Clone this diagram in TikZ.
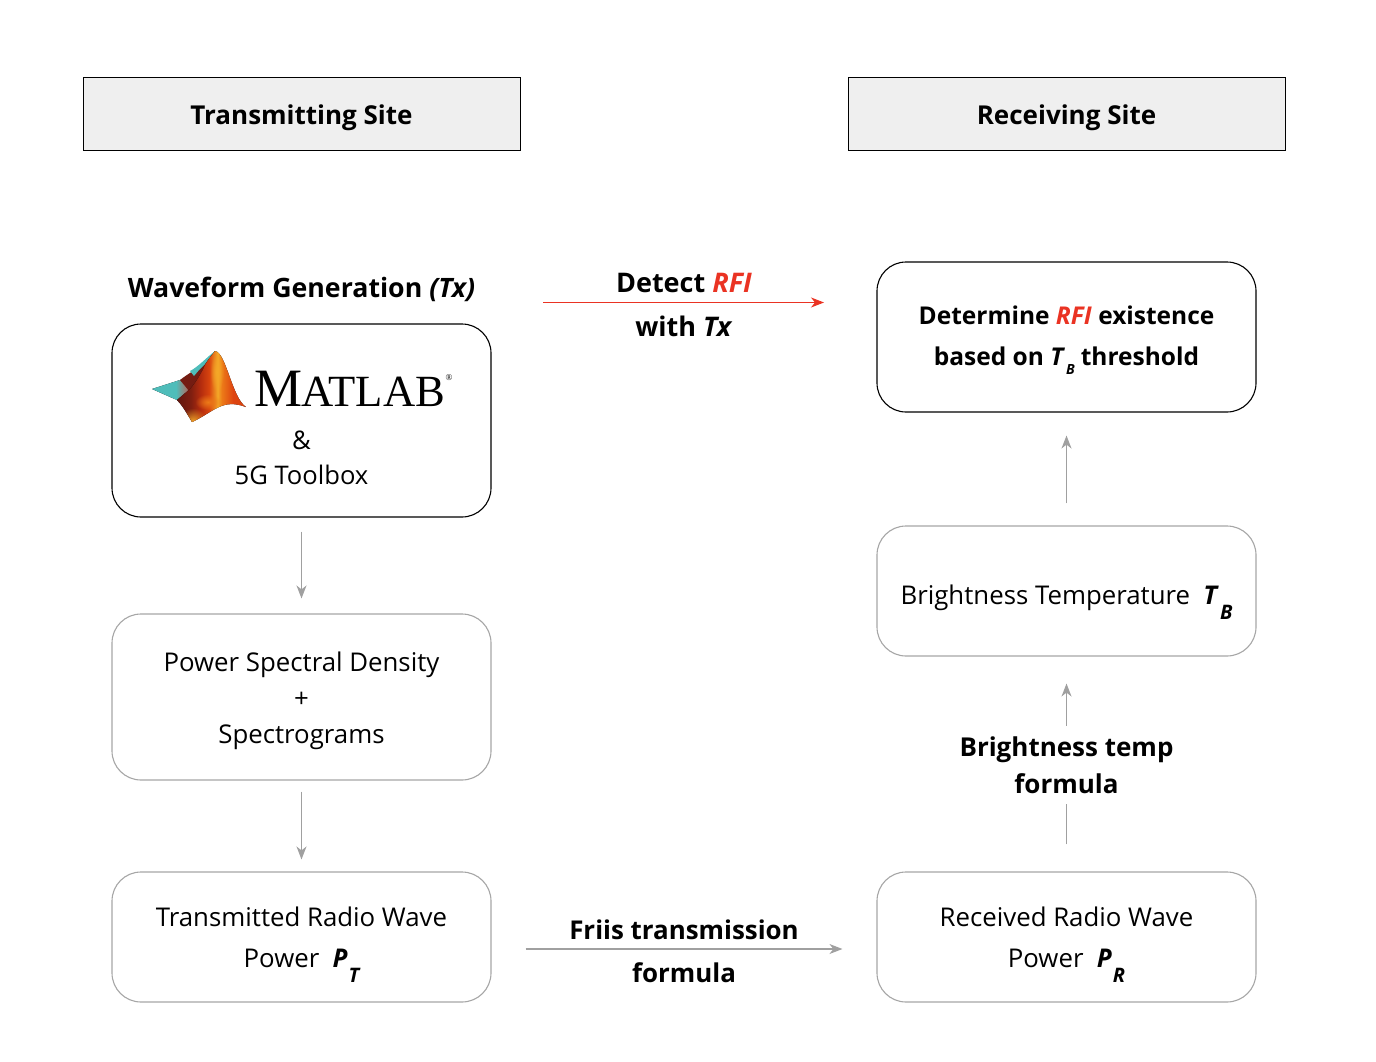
\documentclass[tikz,border=0pt]{standalone}
\usepackage{fontspec}
\setmainfont{Open Sans}
\newfontfamily\lserif{Liberation Serif}
\usetikzlibrary{arrows.meta,fadings}
\tikzfading[name=softfade,inner color=transparent!0,outer color=transparent!100]
\definecolor{hdr}{HTML}{EFEFEF}
\definecolor{boxgray}{HTML}{A6A6A6}
\definecolor{arrgray}{HTML}{A0A0A0}
\definecolor{rfired}{HTML}{EA3323}
\definecolor{mA}{HTML}{5E1610}
\definecolor{mB}{HTML}{7E1E10}
\definecolor{mC}{HTML}{B42C0E}
\definecolor{mD}{HTML}{D8440E}
\definecolor{mE}{HTML}{F4A828}
\definecolor{mF}{HTML}{EC7A18}
\definecolor{mG}{HTML}{DE4410}
\definecolor{mT}{HTML}{4FBDBA}
\definecolor{mM}{HTML}{9E7A70}
\definecolor{mR}{HTML}{741C12}
\pgfdeclarehorizontalshading{membrane}{100bp}{
 color(0bp)=(mA); color(25bp)=(mA); color(36bp)=(mB);
 color(43bp)=(mC); color(49bp)=(mD); color(55bp)=(mE); color(58bp)=(mF);
 color(66bp)=(mG); color(75bp)=(mD); color(100bp)=(mD)}
\pgfdeclarehorizontalshading{tealfade}{100bp}{
 color(0bp)=(mT); color(25bp)=(mT); color(50bp)=(mT);
 color(60bp)=(mM); color(72bp)=(mR); color(100bp)=(mR)}
\newcommand{\sbs}[1]{\smash{\raisebox{-15pt}{\fontsize{20}{20}\selectfont\itshape\bfseries #1}}}
\tikzset{
 x=1pt,y=-1pt,
 hdrbox/.style={draw=black,line width=1pt,fill=hdr,minimum width=437pt,minimum height=73pt,inner sep=0pt,font=\fontsize{26}{30}\selectfont\bfseries},
 rbox/.style={draw=#1,rounded corners=29pt,line width=1.1pt,minimum width=379pt,inner sep=0pt,align=center,font=\fontsize{25.8}{41}\selectfont},
 lbl/.style={inner sep=0pt,font=\fontsize{27}{37}\selectfont\bfseries,align=center},
 con/.style={draw=arrgray,line width=1.1pt,-{Stealth[length=13pt,width=10pt,inset=4pt]}},
 plainline/.style={draw=arrgray,line width=1.1pt},
 redcon/.style={draw=rfired,line width=1.1pt,-{Stealth[length=13pt,width=10pt,inset=4pt]}},
}
\begin{document}
\begin{tikzpicture}
\useasboundingbox (0,0) rectangle (1376,1062);
\node[hdrbox] (tx) at (301.5,114.5) {\raisebox{-10pt}[0pt][0pt]{Transmitting Site}};
\node[hdrbox] (rx) at (1066.5,114.5) {\raisebox{-10pt}[0pt][0pt]{Receiving Site}};

\node[lbl,font=\fontsize{26.7}{37}\selectfont\bfseries] (wg) at (301.5,289) {Waveform Generation \textit{(Tx)}};
\node[rbox=black,minimum height=193pt] (ml) at (301.5,420.5) {};
\node[inner sep=0pt,font=\fontsize{25.6}{30}\selectfont] (amp) at (301.5,440) {\&};
\node[inner sep=0pt,font=\fontsize{25.6}{30}\selectfont] (tb) at (301.5,475) {5G Toolbox};
\node[inner sep=0pt,anchor=base west,font=\lserif\fontsize{54}{54}\selectfont] (mlname) at (254,406) {M\kern-1pt\fontsize{44.6}{45}\selectfont ATLAB};
\node[inner sep=0pt,font=\lserif\fontsize{9}{9}\selectfont] (mlreg) at (449,378) {®};

% membrane logo
\fill[shading=tealfade] (152,389) -- (180,380) -- (190,379) -- (200,388) -- (190,400) -- (177,400) -- cycle;
\fill[mR] (180,380) .. controls (190,372) and (198,370) .. (215,351) -- (208,372) -- (190,392) -- cycle;
\fill[mT] (190,371) .. controls (198,367) and (206,358) .. (215,351) .. controls (209,359) and (205,365) .. (199,370) -- (194,376) -- cycle;
\begin{scope}
\clip (215,351) .. controls (226,352) and (232,398) .. (246,407)
  .. controls (222,398) and (214,412) .. (192,422)
  .. controls (186,412) and (182,405) .. (177,400) -- (190,389)
  .. controls (197,381) and (202,372) .. (205,365) .. controls (209,358) and (212,355) .. (215,351) -- cycle;
\fill[shading=membrane] (175,351) rectangle (246,422);
\fill[mE,path fading=softfade] (193,422) circle[radius=14pt];
\fill[mE,path fading=softfade] (217,372) ellipse[x radius=7pt,y radius=20pt];
\fill[mF,path fading=softfade] (208,402) ellipse[x radius=13pt,y radius=8pt];
\end{scope}

\node[rbox=boxgray,minimum height=166pt] (psd) at (301.5,697) {};
\node[inner sep=0pt,align=center,font=\fontsize{25.8}{36}\selectfont] (psdt) at (301.5,700.5) {Power Spectral Density\\+\\Spectrograms};
\node[rbox=boxgray,minimum height=130pt] (pt) at (301.5,937) {Transmitted Radio Wave\\Power\ \ \textbf{\textit{P}}\kern1pt\sbs{T}};

\node[rbox=black,minimum height=150pt,font=\fontsize{24.5}{41}\selectfont\bfseries] (det) at (1066.5,337) {\raisebox{2pt}{Determine \textcolor{rfired}{\textit{RFI}} existence}\\\raisebox{2pt}{based on \textit{T}\kern1pt\smash{\raisebox{-9pt}{\fontsize{14}{14}\selectfont\itshape B}}\kern6pt threshold}};
\node[rbox=boxgray,minimum height=130pt] (tbx) at (1066.5,591) {\raisebox{-13pt}[0pt][0pt]{Brightness Temperature\ \ \textbf{\textit{T}}\kern1pt\sbs{B}}};
\node[rbox=boxgray,minimum height=130pt] (pr) at (1066.5,937) {Received Radio Wave\\Power\ \ \textbf{\textit{P}}\kern1pt\sbs{R}};

\node[lbl,minimum height=78pt,font=\fontsize{26}{37}\selectfont\bfseries] (btf) at (1066.5,765) {Brightness temp\\formula};
\node[lbl] (dr) at (684,283) {Detect \textcolor{rfired}{\textit{RFI}}};
\node[lbl] (wt) at (684,326) {with \textit{Tx}};
\node[lbl,font=\fontsize{25.9}{37}\selectfont\bfseries] (fr) at (684,929.5) {Friis transmission};
\node[lbl,font=\fontsize{25.9}{37}\selectfont\bfseries] (fo) at (684,972.5) {formula};

\coordinate (ra) at (543,302.5);
\coordinate (rb) at (824,302.5);
\draw[redcon] (ra) -- (rb);
\draw[con,shorten <=14pt,shorten >=15pt] (ml) -- (psd);
\draw[con,shorten <=11pt,shorten >=12pt] (psd) -- (pt);
\draw[con,shorten <=22pt,shorten >=23pt] (tbx) -- (det);
\draw[plainline,shorten <=27pt] (pr.north) -- (btf.south);
\draw[con,shorten >=27pt] (btf.north) -- (tbx.south);
\draw[con,shorten <=34pt,shorten >=34pt] ([yshift=-12pt]pt.east) -- ([yshift=-12pt]pr.west);
\end{tikzpicture}
\end{document}
